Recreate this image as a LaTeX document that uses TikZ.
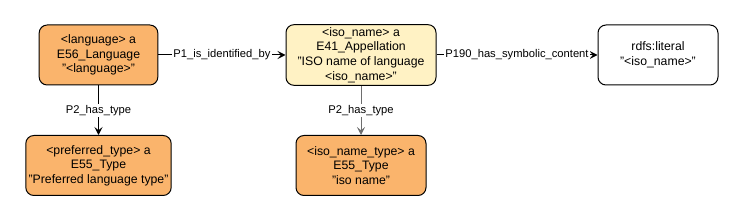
\documentclass[tikz,border=0pt]{standalone}
\usepackage{fontspec}
\setmainfont{Liberation Sans}
\usepackage{tikz}
\usetikzlibrary{arrows.meta,positioning}
\definecolor{crmorange}{HTML}{FAB46C}
\definecolor{crmyellow}{HTML}{FFF2C4}
\definecolor{edgegray}{HTML}{6E6E6E}
\tikzset{
  classbox/.style={
    rectangle, rounded corners=6pt, draw=black, fill=#1, line width=0.75pt,
    minimum height=45pt, align=center,
    font=\fontsize{9.2}{11}\selectfont, inner sep=2pt
  },
  classbox/.default=crmorange,
  proparrow/.style={
    -{Stealth[length=6pt,width=6pt,inset=2.5pt]}, line width=0.75pt, color=#1
  },
  proparrow/.default=black,
  proplabel/.style={
    fill=white, inner sep=1pt, text=black,
    font=\fontsize{8.4}{10}\selectfont
  },
}
\begin{document}
\begin{tikzpicture}[x=0.75pt, y=-0.75pt]
  \useasboundingbox (0,0) rectangle (744,221);

  % Top row
  \node[classbox, minimum width=89pt] at (98.5,55) (language) {<language> a\\E56\_Language\\"<language>"};
  \node[classbox=crmyellow, minimum width=112.5pt] at (361,55) (iso_name) {<iso\_name> a\\E41\_Appellation\\"ISO name of language\\<iso\_name>"};
  \node[classbox=white, minimum width=90pt] at (658,55) (literal) {rdfs:literal\\"<iso\_name>"};

  % Bottom row
  \node[classbox, minimum width=109pt] at (98.5,165.5) (pref_type) {<preferred\_type> a\\E55\_Type\\"Preferred language type"};
  \node[classbox, minimum width=97.5pt] at (361,165.5) (iso_type) {<iso\_name\_type> a\\E55\_Type\\"iso name"};

  % Properties
  \draw[proparrow] (language) -- node[proplabel] {P1\_is\_identified\_by} (iso_name);
  \draw[proparrow] (iso_name) -- node[proplabel] {P190\_has\_symbolic\_content} (literal);
  \draw[proparrow] (language) -- node[proplabel] {P2\_has\_type} (pref_type);
  \draw[proparrow=edgegray] (iso_name) -- node[proplabel] {P2\_has\_type} (iso_type);
\end{tikzpicture}
\end{document}
